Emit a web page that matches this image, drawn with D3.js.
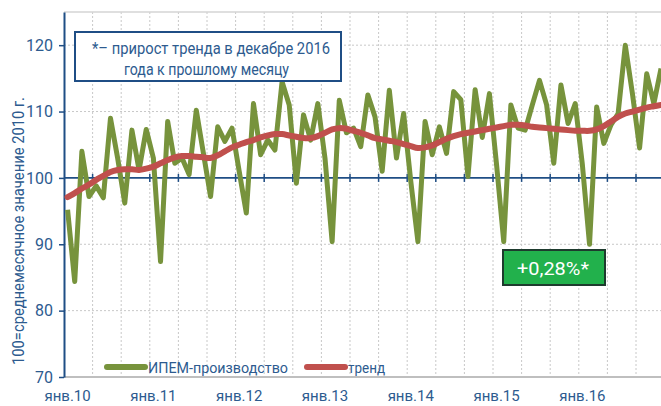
<!DOCTYPE html>
<html>
<head>
<meta charset="utf-8">
<script src="https://cdn.jsdelivr.net/npm/d3@7"></script>
<style>
  body { margin: 0; background: #fff; }
  text { font-family: Roboto, "DejaVu Sans", sans-serif; }
</style>
</head>
<body>
<div id="chart"></div>
<script>
// data, Jan 2010 - Dec 2016
const years = ["10", "11", "12", "13", "14", "15", "16"];
const monthNames = ["янв", "фев", "мар", "апр", "май", "июн", "июл", "авг", "сен", "окт", "ноя", "дек"];
const months = years.flatMap(y => monthNames.map(m => m + "." + y));

const ipem = [
  95.2, 84.4, 104.0, 97.2, 98.8, 97.0, 109.0, 103.0, 96.2, 107.2, 101.2, 107.3,
  103.0, 87.4, 108.5, 102.2, 103.0, 100.5, 110.2, 103.7, 97.2, 107.7, 105.5, 107.5,
  101.0, 94.7, 111.2, 103.5, 105.7, 104.2, 114.5, 111.0, 99.2, 109.5, 105.7, 111.2,
  103.0, 90.4, 111.7, 106.8, 107.5, 104.7, 112.5, 109.2, 101.0, 113.2, 103.0, 109.7,
  99.5, 90.4, 108.5, 103.5, 107.7, 103.7, 113.0, 111.8, 100.2, 113.3, 106.1, 112.7,
  102.0, 90.4, 111.0, 107.5, 107.2, 111.0, 114.7, 111.0, 102.2, 114.0, 108.2, 111.2,
  102.0, 90.0, 110.7, 105.2, 108.0, 109.7, 120.0, 112.7, 104.5, 115.7, 111.2, 116.5
];

const trend = [
  97.1, 97.7, 98.4, 99.0, 99.7, 100.3, 100.9, 101.2, 101.3, 101.3, 101.2, 101.4,
  101.7, 102.2, 102.7, 103.1, 103.3, 103.3, 103.2, 103.1, 103.0, 103.4, 104.0, 104.6,
  105.0, 105.4, 105.7, 106.1, 106.4, 106.6, 106.6, 106.4, 106.2, 106.0, 106.0, 106.3,
  106.8, 107.3, 107.5, 107.4, 107.1, 106.8, 106.4, 106.0, 105.8, 105.6, 105.4, 105.1,
  104.8, 104.5, 104.6, 104.9, 105.4, 105.9, 106.3, 106.6, 106.8, 107.0, 107.2, 107.4,
  107.6, 107.8, 108.0, 108.0, 107.9, 107.7, 107.6, 107.5, 107.4, 107.3, 107.2, 107.1,
  107.1, 107.1, 107.3, 107.8, 108.5, 109.2, 109.7, 110.0, 110.3, 110.6, 110.8, 111.0
];

const yTicks = [70, 80, 90, 100, 110, 120];
const xTickLabels = ["янв.10", "янв.11", "янв.12", "янв.13", "янв.14", "янв.15", "янв.16"];
const seriesNames = ["ИПЕМ-производство", "тренд"];
const noteLines = ["*– прирост тренда в декабре 2016", "года к прошлому месяцу"];
const noteValue = "+0,28%*";

//size
const width = 661;
const height = 406;
const plot = { left: 64, top: 12, bottom: 377, right: 664.6 };

const blue = "#1f4e85";
const textBlue = "#2d5b8f";
const green = "#77933c";
const red = "#c0504d";

const x = d3.scalePoint().domain(months).range([plot.left, plot.right]).padding(0.5);
const step = x.step();
const y = d3.scaleLinear().domain([70, 125]).range([plot.bottom, plot.top]);

const svg = d3.select("#chart").append("svg")
  .attr("width", width)
  .attr("height", height);

// boundaries every 4 months
const bounds = d3.range(4, months.length, 4).map(i => x(months[i]) - step / 2);

// grid
svg.append("g")
  .selectAll("line")
  .data(bounds)
  .join("line")
  .attr("x1", d => d).attr("x2", d => d)
  .attr("y1", plot.top).attr("y2", plot.bottom)
  .attr("stroke", "#c8c8c8")
  .attr("stroke-dasharray", "2,2");

svg.append("g")
  .selectAll("line")
  .data(yTicks.filter(d => d !== 70 && d !== 100))
  .join("line")
  .attr("x1", plot.left).attr("x2", width)
  .attr("y1", d => y(d)).attr("y2", d => y(d))
  .attr("stroke", "#c8c8c8")
  .attr("stroke-dasharray", "2,2");

// top border and bottom axis
svg.append("line")
  .attr("x1", plot.left).attr("x2", width)
  .attr("y1", plot.top).attr("y2", plot.top)
  .attr("stroke", "#d4d4d4").attr("stroke-width", 1.5);

svg.append("line")
  .attr("x1", plot.left).attr("x2", width)
  .attr("y1", plot.bottom).attr("y2", plot.bottom)
  .attr("stroke", "#bfbfbf").attr("stroke-width", 2);

// 100 line with ticks
const g100 = svg.append("g").attr("transform", `translate(0,${y(100)})`);
g100.append("line")
  .attr("x1", plot.left).attr("x2", width)
  .attr("stroke", blue).attr("stroke-width", 1.8);
g100.selectAll(".tk")
  .data(bounds)
  .join("line")
  .attr("class", "tk")
  .attr("x1", d => d).attr("x2", d => d)
  .attr("y1", -4).attr("y2", 4)
  .attr("stroke", blue).attr("stroke-width", 1.5);

// left axis
svg.append("g")
  .attr("transform", `translate(${plot.left},0)`)
  .call(d3.axisLeft(y).tickValues(yTicks).tickSize(5).tickPadding(6).tickSizeOuter(0))
  .call(g => {
    g.select(".domain").attr("stroke", blue).attr("stroke-width", 2);
    g.selectAll(".tick line").attr("stroke", blue).attr("stroke-width", 1.5);
    g.selectAll(".tick text")
      .attr("fill", textBlue)
      .style("font-size", "16px");
  });

// x labels
svg.append("g")
  .selectAll("text")
  .data(xTickLabels)
  .join("text")
  .attr("x", d => x(d))
  .attr("y", 401)
  .attr("text-anchor", "middle")
  .attr("fill", textBlue)
  .style("font-size", "15px")
  .text(d => d);

// y title
svg.append("text")
  .attr("transform", "translate(24,231) rotate(-90)")
  .attr("text-anchor", "middle")
  .attr("fill", textBlue)
  .style("font-size", "16px")
  .attr("textLength", 268)
  .attr("lengthAdjust", "spacingAndGlyphs")
  .text("100=среднемесячное значение 2010 г.");

// lines
const line = d3.line()
  .x((d, i) => x(months[i]))
  .y(d => y(d));

svg.append("path")
  .datum(ipem)
  .attr("d", line)
  .attr("fill", "none")
  .attr("stroke", green)
  .attr("stroke-width", 5)
  .attr("stroke-linejoin", "round");

svg.append("path")
  .datum(trend)
  .attr("d", line.curve(d3.curveCatmullRom))
  .attr("fill", "none")
  .attr("stroke", red)
  .attr("stroke-width", 6)
  .attr("stroke-linecap", "round");

// legend
const legend = svg.append("g");
[[107, green, 140], [307, red, 37]].forEach(([lx, c, tl], i) => {
  legend.append("line")
    .attr("x1", lx).attr("x2", lx + 38)
    .attr("y1", 367).attr("y2", 367)
    .attr("stroke", c).attr("stroke-width", 6)
    .attr("stroke-linecap", "round");
  legend.append("text")
    .attr("x", lx + 41)
    .attr("y", 373)
    .attr("fill", textBlue)
    .style("font-size", "15.5px")
    .attr("textLength", tl)
    .attr("lengthAdjust", "spacingAndGlyphs")
    .text(seriesNames[i]);
});

// note box
svg.append("rect")
  .attr("x", 75).attr("y", 32)
  .attr("width", 266).attr("height", 49)
  .attr("fill", "#fff")
  .attr("stroke", blue).attr("stroke-width", 2);

svg.append("g")
  .selectAll("text")
  .data(noteLines)
  .join("text")
  .attr("x", (d, i) => [92, 124][i])
  .attr("y", (d, i) => 54 + i * 21)
  .attr("fill", textBlue)
  .style("font-size", "16px")
  .attr("textLength", (d, i) => [238, 165][i])
  .attr("lengthAdjust", "spacingAndGlyphs")
  .text(d => d);

// green value box
svg.append("rect")
  .attr("x", 503).attr("y", 250)
  .attr("width", 102).attr("height", 35)
  .attr("fill", "#22b14c")
  .attr("stroke", "#1e3b2e").attr("stroke-width", 2);

svg.append("text")
  .attr("x", 517).attr("y", 274.5)
  .attr("fill", "#fff")
  .style("font-size", "19px")
  .attr("textLength", 72)
  .attr("lengthAdjust", "spacingAndGlyphs")
  .text(noteValue);
</script>
</body>
</html>
